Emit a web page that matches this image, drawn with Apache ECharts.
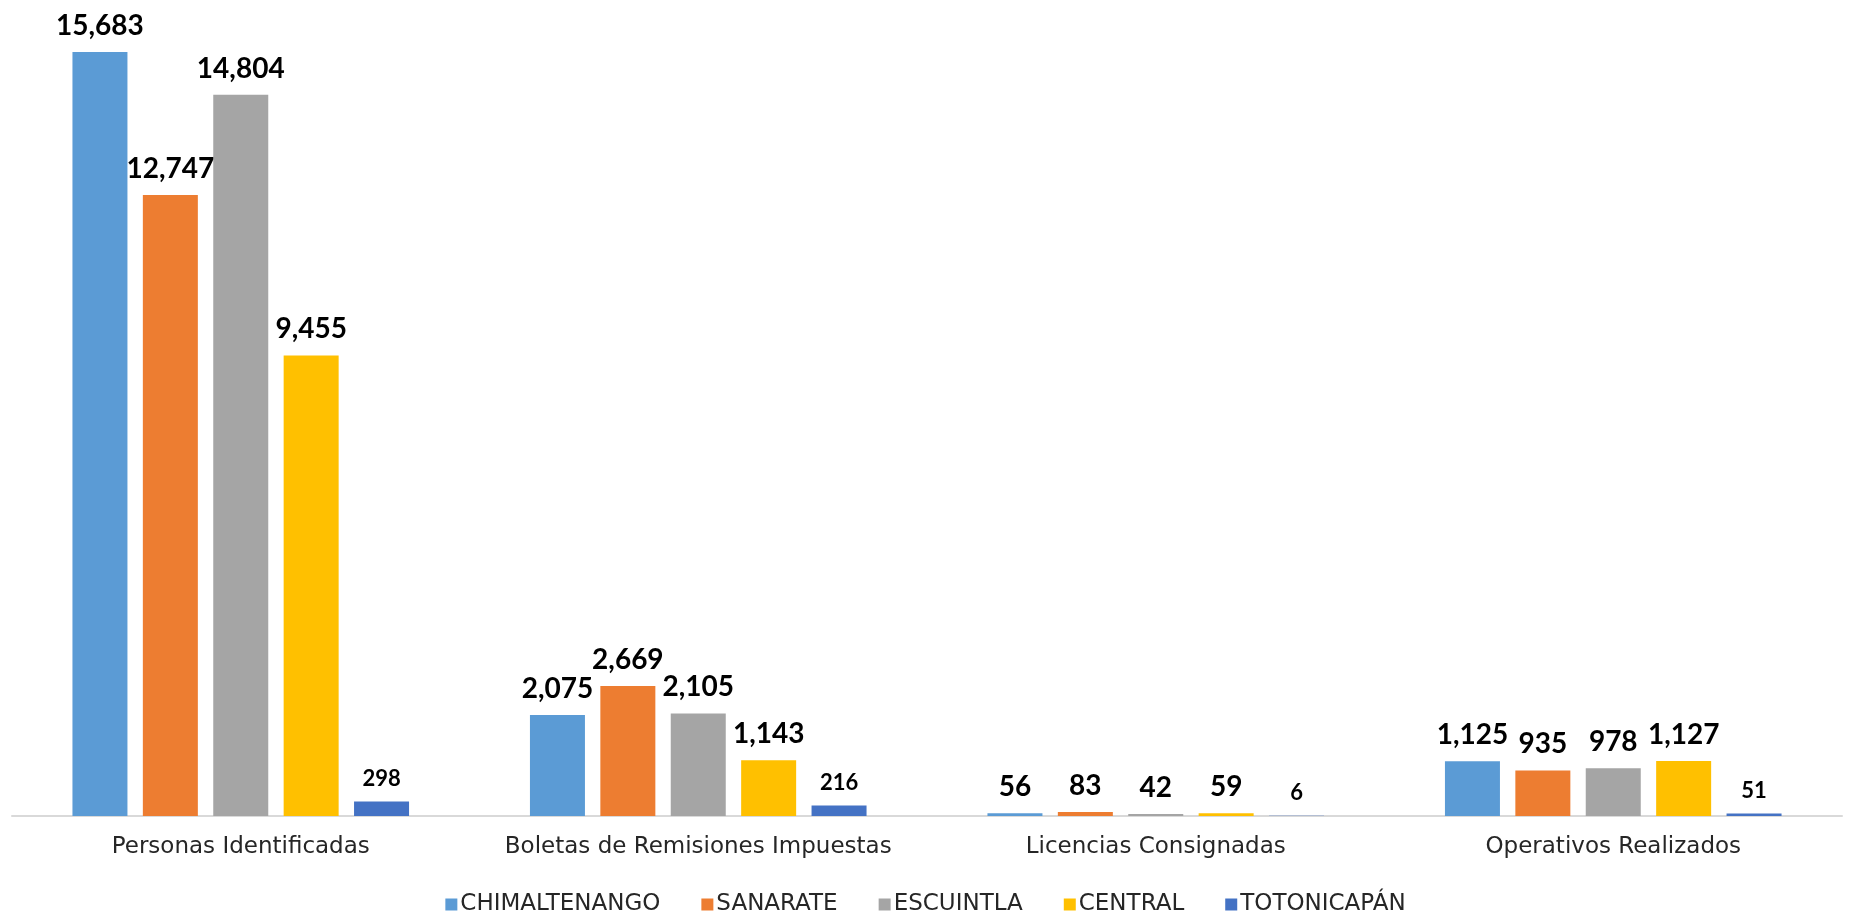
<!DOCTYPE html>
<html><head><meta charset="utf-8">
<script src="https://cdn.jsdelivr.net/npm/echarts@6/dist/echarts.min.js"></script>
<style>html,body{margin:0;padding:0;background:#fff}#c{width:1851px;height:913px}</style>
</head><body><div id="c"></div>
<script>
const categories = ['Personas Identificadas', 'Boletas de Remisiones Impuestas', 'Licencias Consignadas', 'Operativos Realizados'];
const seriesNames = ['CHIMALTENANGO', 'SANARATE', 'ESCUINTLA', 'CENTRAL', 'TOTONICAPÁN'];
const chimaltenango = [15683, 2075, 56, 1125];
const sanarate = [12747, 2669, 83, 935];
const escuintla = [14804, 2105, 42, 978];
const central = [9455, 1143, 59, 1127];
const totonicapan = [298, 216, 6, 51];
const seriesData = [chimaltenango, sanarate, escuintla, central, totonicapan];
const colors = ['#5B9BD5', '#ED7D31', '#A5A5A5', '#FFC000', '#4472C4'];
const labelSizes = [28, 28, 28, 28, 22];

const chart = echarts.init(document.getElementById('c'), null, {renderer: 'canvas'});
chart.setOption({
  animation: false,
  textStyle: {fontFamily: 'DejaVu Sans'},
  grid: {left: 12, right: 9, top: 36.6, bottom: 97, containLabel: false},
  legend: {
    data: seriesNames,
    top: 888, left: 'center',
    itemWidth: 12, itemHeight: 12, itemGap: 41,
    icon: 'rect',
    textStyle: {fontFamily: 'DejaVu Sans', fontSize: 23, color: '#262626', padding: [0, 0, 0, -2]}
  },
  xAxis: {
    type: 'category', data: categories,
    axisTick: {show: false},
    axisLine: {lineStyle: {color: '#d9d9d9', width: 2}},
    axisLabel: {interval: 0, fontFamily: 'DejaVu Sans', fontSize: 23, color: '#262626', margin: 20}
  },
  yAxis: {type: 'value', min: 0, max: 16000, show: false, splitLine: {show: false}},
  series: seriesData.map((d, i) => ({
    name: seriesNames[i], type: 'bar', data: d,
    barWidth: 55, barGap: '28%',
    itemStyle: {color: colors[i]},
    label: {
      show: true, position: 'top', distance: 12,
      fontFamily: 'Lato', fontWeight: 'bold', fontSize: labelSizes[i], color: '#000',
      formatter: p => p.value.toLocaleString('en-US')
    }
  }))
});
</script></body></html>
